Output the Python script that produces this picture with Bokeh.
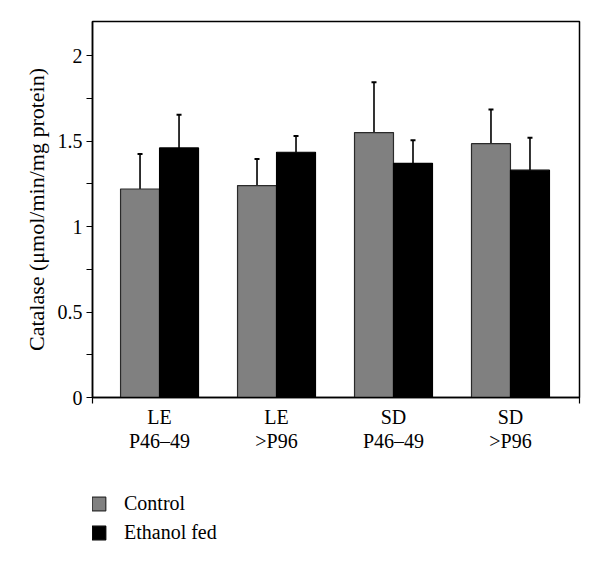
from bokeh.plotting import figure
from bokeh.layouts import column
from bokeh.models import (ColumnDataSource, FixedTicker, LinearAxis, Range1d, Whisker,
                          TeeHead, Legend, LegendItem, NumeralTickFormatter)
from bokeh.embed import file_html
from bokeh.resources import INLINE

# ---- data ----
groups = [1, 2, 3, 4]
label_line1 = ["LE", "LE", "SD", "SD"]
label_line2 = ["P46\u201349", ">P96", "P46\u201349", ">P96"]
control = [1.22, 1.24, 1.55, 1.485]
control_sd = [0.205, 0.155, 0.295, 0.20]
ethanol = [1.46, 1.435, 1.37, 1.33]
ethanol_sd = [0.195, 0.095, 0.135, 0.19]
y_ticks = [0, 0.5, 1, 1.5, 2]
y_minor = [0.25, 0.75, 1.25, 1.75]
series_names = ["Control", "Ethanol fed"]
series_colors = ["#808080", "black"]
series_edges = ["#2a2a2a", "black"]

FONT = "Liberation Serif"
FS = "20px"
off = 0.1667
bw = 0.333
W = 596

src_c = ColumnDataSource(dict(
    x=[g - off for g in groups], top=control,
    upper=[c + s for c, s in zip(control, control_sd)]))
src_e = ColumnDataSource(dict(
    x=[g + off for g in groups], top=ethanol,
    upper=[c + s for c, s in zip(ethanol, ethanol_sd)]))

x0, x1 = 0.427, 4.590
p = figure(width=W, height=459, output_backend="svg", toolbar_location=None,
           x_range=Range1d(x0, x1), y_range=Range1d(0, 2.2),
           min_border_left=92, min_border_right=W - 579, min_border_top=21, min_border_bottom=62)
p.grid.visible = False
p.outline_line_color = "black"
p.outline_line_width = 1.5
p.background_fill_color = "white"
p.border_fill_color = "white"

rc = p.vbar(x="x", top="top", width=bw, source=src_c, fill_color=series_colors[0],
            line_color=series_edges[0], line_width=1.2)
re = p.vbar(x="x", top="top", width=bw, source=src_e, fill_color=series_colors[1],
            line_color=series_edges[1], line_width=1.2)

for src in (src_c, src_e):
    w = Whisker(source=src, base="x", lower="top", upper="upper", dimension="height",
                line_color="black", line_width=1.6, lower_head=None,
                upper_head=TeeHead(size=5, line_width=2, line_color="black"), level="underlay")
    p.add_layout(w)

# y axis
ya = p.yaxis[0]
ya.ticker = FixedTicker(ticks=y_ticks, minor_ticks=y_minor)
ya.formatter = NumeralTickFormatter(format="0.[0]")
ya.axis_label = "Catalase (\u03bcmol/min/mg protein)"
ya.axis_label_text_font = FONT
ya.axis_label_text_font_size = "22px"
ya.axis_label_text_font_style = "normal"
ya.axis_label_text_color = "black"
ya.axis_label_standoff = 6
ya.major_label_text_font = FONT
ya.major_label_text_font_size = FS
ya.major_label_text_color = "black"
ya.major_label_standoff = 4
ya.major_tick_out = 6
ya.major_tick_in = 0
ya.minor_tick_out = 6
ya.minor_tick_in = 0
ya.axis_line_width = 1.5
ya.major_tick_line_width = 1.2
ya.minor_tick_line_width = 1.2

# x axis line 1
xa = p.xaxis[0]
xa.ticker = FixedTicker(ticks=groups, minor_ticks=[x0, x1])
xa.major_label_overrides = {g: t for g, t in zip(groups, label_line1)}
xa.major_label_text_font = FONT
xa.major_label_text_font_size = FS
xa.major_label_text_color = "black"
xa.major_tick_out = 0
xa.major_tick_in = 0
xa.minor_tick_out = 6
xa.minor_tick_in = 0
xa.minor_tick_line_width = 1.2
xa.axis_line_width = 1.5
xa.major_label_standoff = 2

# x axis line 2
xb = LinearAxis(ticker=FixedTicker(ticks=groups, minor_ticks=[]),
                major_label_overrides={g: t for g, t in zip(groups, label_line2)},
                axis_line_color=None, major_tick_line_color=None, minor_tick_line_color=None,
                major_label_text_font=FONT, major_label_text_font_size=FS,
                major_label_text_color="black", major_label_standoff=-7)
p.add_layout(xb, "below")

# legend panel
q = figure(width=W, height=100, output_backend="svg", toolbar_location=None,
           x_range=Range1d(0, 1), y_range=Range1d(0, 1),
           x_axis_location=None, y_axis_location=None,
           min_border_left=0, min_border_right=0, min_border_top=0, min_border_bottom=0)
q.grid.visible = False
q.outline_line_color = None
q.border_fill_color = "white"
q.background_fill_color = "white"
lr = []
for col, edge in zip(series_colors, series_edges):
    # single off-range bar so that the legend swatch has something to draw
    lr.append(q.vbar(x=[5], top=[0], width=0.1, fill_color=col,
                     line_color=edge, line_width=1.2))
legend = Legend(items=[LegendItem(label=n, renderers=[r]) for n, r in zip(series_names, lr)],
                location=(-2, 15), border_line_alpha=0, background_fill_alpha=0,
                padding=0, margin=0, spacing=6, glyph_width=17, glyph_height=17,
                label_standoff=17, label_text_font=FONT, label_text_font_size=FS,
                label_text_color="black", label_height=20)
q.add_layout(legend)

layout = column(p, q, spacing=0)
open("out.html", "w").write(file_html(layout, INLINE))
